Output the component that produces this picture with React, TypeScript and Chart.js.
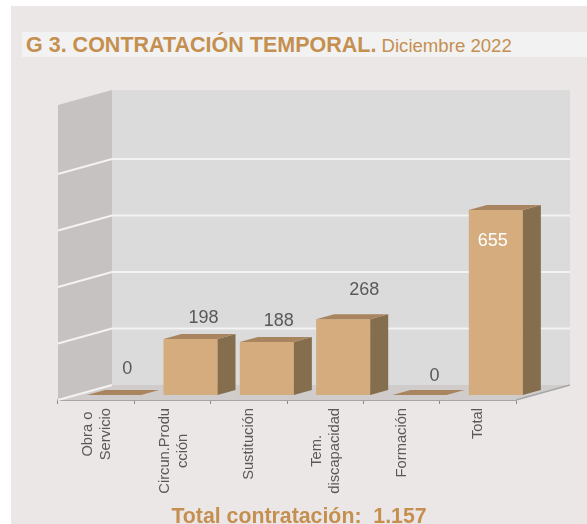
import React, { useEffect, useRef } from "react";
import { Chart, registerables } from "chart.js";

Chart.register(...registerables);

const categories: (string | string[])[] = [
  ["Obra o", "Servicio"],
  ["Circun.Produ", "cción"],
  "Sustitución",
  ["Tem.", "discapacidad"],
  "Formación",
  "Total",
];
const contracts = [0, 198, 188, 268, 0, 655];
const axisMax = 1044;
const axisStep = 200;

// hand-placed value label nudges, relative to each bar's top centre
const labelNudge = [
  [13, -26],
  [13, -21],
  [12, -21],
  [21, -29],
  [15, -19],
  [-3, 31],
];
const labelColors = ["#595959", "#595959", "#595959", "#595959", "#595959", "#ffffff"];

const WALL_DX = 54;
const WALL_DY = 15;
const BAR_DX = 18;
const BAR_DY = 5;
const TICK_LINE = 18;
const FONT = '"Liberation Sans", Arial, sans-serif';

function poly(ctx: CanvasRenderingContext2D, pts: number[][], fill: string) {
  ctx.beginPath();
  pts.forEach((p, i) => (i ? ctx.lineTo(p[0], p[1]) : ctx.moveTo(p[0], p[1])));
  ctx.closePath();
  ctx.fillStyle = fill;
  ctx.fill();
}

const room = {
  id: "room",
  beforeDatasetsDraw(chart: any) {
    const { ctx, chartArea: a, scales } = chart;
    const y = scales.y;
    const { left: l, right: r, top: t, bottom: b } = a;
    ctx.save();
    poly(ctx, [[l + WALL_DX, t - WALL_DY], [r + WALL_DX, t - WALL_DY], [r + WALL_DX, b - WALL_DY], [l + WALL_DX, b - WALL_DY]], "#dbdbdb");
    poly(ctx, [[l, t], [l + WALL_DX, t - WALL_DY], [l + WALL_DX, b - WALL_DY], [l, b]], "#c6c2c1");
    poly(ctx, [[l, b], [l + WALL_DX, b - WALL_DY], [r + WALL_DX, b - WALL_DY], [r, b]], "#d0cccc");
    ctx.strokeStyle = "#f4f2f2";
    ctx.lineWidth = 2;
    y.ticks.forEach((tk: any) => {
      if (tk.value === 0 || tk.value % axisStep !== 0) return;
      const py = y.getPixelForValue(tk.value);
      ctx.beginPath();
      ctx.moveTo(l, py);
      ctx.lineTo(l + WALL_DX, py - WALL_DY);
      ctx.lineTo(r + WALL_DX, py - WALL_DY);
      ctx.stroke();
    });
    ctx.beginPath();
    ctx.moveTo(l, b);
    ctx.lineTo(l + WALL_DX, b - WALL_DY);
    ctx.stroke();
    ctx.strokeStyle = "#a6a6a6";
    ctx.lineWidth = 1.5;
    ctx.beginPath();
    ctx.moveTo(r, b);
    ctx.lineTo(r + WALL_DX, b - WALL_DY);
    ctx.stroke();
    ctx.restore();
    ctx.save();
    ctx.translate(BAR_DX, -BAR_DY);
  },
  afterDatasetsDraw(chart: any) {
    const { ctx, scales, chartArea } = chart;
    const meta = chart.getDatasetMeta(0);
    const dx = BAR_DX;
    const dy = BAR_DY;
    meta.data.forEach((el: any) => {
      const x0 = el.x - el.width / 2;
      const x1 = el.x + el.width / 2;
      const top = el.y;
      const base = el.base;
      poly(ctx, [[x1, top], [x1 + dx, top - dy], [x1 + dx, base - dy], [x1, base]], "#856e4d");
      poly(ctx, [[x0, top], [x0 + dx, top - dy], [x1 + dx, top - dy], [x1, top]], "#a9855f");
    });
    ctx.restore();
    ctx.save();
    ctx.font = `18px ${FONT}`;
    ctx.textAlign = "center";
    ctx.textBaseline = "middle";
    meta.data.forEach((el: any, i: number) => {
      ctx.fillStyle = labelColors[i];
      ctx.fillText(
        String(contracts[i]),
        el.x + BAR_DX + labelNudge[i][0],
        el.y - BAR_DY + labelNudge[i][1]
      );
    });
    ctx.restore();
    // rotated category labels: each block hangs from the axis, its lines centred on each other
    ctx.save();
    ctx.font = `14.7px ${FONT}`;
    ctx.fillStyle = "#595959";
    ctx.textAlign = "center";
    ctx.textBaseline = "middle";
    categories.forEach((c, i) => {
      const lines = Array.isArray(c) ? c : [c];
      const cx = scales.x.getPixelForValue(i) + (lines.length > 1 ? 1 : 0);
      const blockLength = Math.max(...lines.map((s) => ctx.measureText(s).width));
      lines.forEach((line, j) => {
        ctx.save();
        ctx.translate(
          cx + (j - (lines.length - 1) / 2) * TICK_LINE,
          chartArea.bottom + 8 + blockLength / 2
        );
        ctx.rotate(-Math.PI / 2);
        ctx.fillText(line, 0, 0);
        ctx.restore();
      });
    });
    ctx.restore();
  },
};

export default function App() {
  const ref = useRef<HTMLCanvasElement>(null);
  useEffect(() => {
    const chart = new Chart(ref.current!, {
      type: "bar",
      data: {
        labels: categories as any,
        datasets: [
          {
            data: contracts,
            backgroundColor: "#d4ac7d",
            borderWidth: 0,
            barPercentage: 0.708,
            categoryPercentage: 1,
            clip: false as any,
          },
        ],
      },
      options: {
        responsive: false,
        animation: false,
        layout: { padding: { left: 58, right: 71, top: 105, bottom: 0 } },
        plugins: { legend: { display: false }, tooltip: { enabled: false } },
        scales: {
          x: {
            offset: true,
            afterFit(s: any) {
              s.height = 124;
              s.paddingLeft = 0;
              s.paddingRight = 0;
            },
            border: { color: "#a6a6a6", width: 2 },
            grid: { offset: true, drawOnChartArea: false, drawTicks: true, tickLength: 4, color: "#8c8c8c" },
            ticks: { display: false, autoSkip: false },
          },
          y: {
            display: false,
            min: 0,
            max: axisMax,
            ticks: { stepSize: axisStep },
          },
        },
      },
      plugins: [room],
    });
    return () => chart.destroy();
  }, []);

  return (
    <div style={{ position: "fixed", left: 0, top: 0, width: 587, height: 524, background: "#ffffff", overflow: "hidden" }}>
      <div style={{ position: "absolute", left: 11, top: 6, width: 576, height: 518, background: "#ece7e7" }} />
      <div
        style={{
          position: "absolute",
          left: 22,
          top: 32,
          width: 565,
          height: 25,
          lineHeight: "26px",
          background: "#f2f2f2",
          color: "#c48f4f",
          fontFamily: FONT,
          whiteSpace: "nowrap",
          textIndent: 4,
        }}
      >
        <span style={{ fontWeight: 700, fontSize: 21.5 }}>G 3. CONTRATACIÓN TEMPORAL.</span>
        <span style={{ fontSize: 18.6 }}> Diciembre 2022</span>
      </div>
      <canvas ref={ref} width={587} height={524} style={{ position: "absolute", left: 0, top: 0, display: "block" }} />
      <div
        style={{
          position: "absolute",
          left: 0,
          width: 598,
          top: 504,
          textAlign: "center",
          color: "#c48f4f",
          fontFamily: FONT,
          fontWeight: 700,
          fontSize: 21.3,
          lineHeight: "24px",
          whiteSpace: "pre",
        }}
      >
        {"Total contratación:  1.157"}
      </div>
    </div>
  );
}
